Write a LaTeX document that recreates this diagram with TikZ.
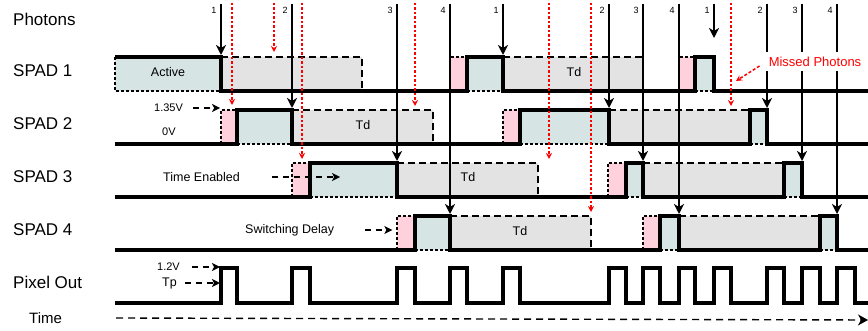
\documentclass[tikz,border=0pt]{standalone}
\usepackage{fontspec}
\setmainfont{Liberation Sans}
\usetikzlibrary{arrows.meta}

\definecolor{activec}{HTML}{D6E4E4}
\definecolor{deadc}{HTML}{E3E3E3}
\definecolor{delayc}{HTML}{FFD1DC}

\begin{document}
\begin{tikzpicture}[x=1pt, y=-1pt,
  lbl/.style={anchor=west, inner sep=0pt, font=\fontsize{17}{20}\selectfont},
  txt/.style={inner sep=0pt, font=\fontsize{12.5}{15}\selectfont},
  small/.style={anchor=west, inner sep=0pt, font=\fontsize{11}{13}\selectfont},
  num/.style={inner sep=0pt, font=\fontsize{9}{11}\selectfont},
  sig/.style={line width=3.3pt, line join=miter},
  dotedge/.style={line width=1.3pt, dash pattern=on 3pt off 2pt},
  dashedge/.style={line width=1.6pt, dash pattern=on 7pt off 4pt},
  photon/.style={line width=2pt, -{Stealth[length=10pt,width=10pt,inset=3pt]}},
  missed/.style={red, line width=1.5pt, dash pattern=on 2.5pt off 2pt, -{Stealth[length=6pt,width=6pt]}},
  hint/.style={line width=1.5pt, dash pattern=on 6pt off 5pt, -{Stealth[length=8pt,width=8pt,inset=2pt]}}]
  \useasboundingbox (0,0) rectangle (868,331);

  % row names
  \path (13,19) node[lbl] (photons) {Photons}
    (13,71) node[lbl] (spad1) {SPAD 1}
    (13,124) node[lbl] (spad2) {SPAD 2}
    (13,177) node[lbl] (spad3) {SPAD 3}
    (13,230) node[lbl] (spad4) {SPAD 4}
    (13,282) node[lbl] (pixout) {Pixel Out}
    (29,318) node[lbl, font=\fontsize{15}{18}\selectfont] (time) {Time};

  % SPAD 1
  \fill[activec] (115,57) rectangle (221,91) (467,57) rectangle (503,91) (695,57) rectangle (714,91);
  \fill[deadc] (221,57) rectangle (362,91) (503,57) rectangle (643,91);
  \fill[delayc] (450,57) rectangle (467,91) (679,57) rectangle (695,91);
  % SPAD 2
  \fill[activec] (237,110) rectangle (292,144) (520,110) rectangle (609,144) (750,110) rectangle (767,144);
  \fill[deadc] (292,110) rectangle (433,144) (609,110) rectangle (750,144);
  \fill[delayc] (221,110) rectangle (237,144) (503,110) rectangle (520,144);
  % SPAD 3
  \fill[activec] (310,163) rectangle (397,197) (626,163) rectangle (643,197) (784,163) rectangle (802,197);
  \fill[deadc] (397,163) rectangle (538,197) (643,163) rectangle (784,197);
  \fill[delayc] (292,163) rectangle (310,197) (608,163) rectangle (626,197);
  % SPAD 4
  \fill[activec] (415,216) rectangle (450,250) (660,216) rectangle (679,250) (820,216) rectangle (837,250);
  \fill[deadc] (450,216) rectangle (591,250) (679,216) rectangle (820,250);
  \fill[delayc] (397,216) rectangle (415,250) (643,216) rectangle (660,250);

  % dotted edges of the active and delay parts
  \draw[dotedge] (115,57) -- (115,91) -- (221,91) (450,91) -- (450,57) -- (467,57)
    (467,91) -- (503,91) (679,91) -- (679,57) -- (695,57) (695,91) -- (714,91);
  \draw[dotedge] (221,144) -- (221,110) -- (237,110) (237,144) -- (292,144)
    (503,144) -- (503,110) -- (520,110) (520,144) -- (609,144) (750,144) -- (767,144);
  \draw[dotedge] (292,197) -- (292,163) -- (310,163) (310,197) -- (397,197)
    (608,197) -- (608,163) -- (626,163) (626,197) -- (643,197) (784,197) -- (802,197);
  \draw[dotedge] (397,250) -- (397,216) -- (415,216) (415,250) -- (450,250)
    (643,250) -- (643,216) -- (660,216) (660,250) -- (679,250) (820,250) -- (837,250);

  % dashed edges of the dead time
  \draw[dashedge] (221,57) -- (362,57) -- (362,91) (503,57) -- (643,57) -- (643,91);
  \draw[dashedge] (292,110) -- (433,110) -- (433,144) (609,110) -- (750,110);
  \draw[dashedge] (397,163) -- (538,163) -- (538,197) (643,163) -- (784,163);
  \draw[dashedge] (450,216) -- (591,216) -- (591,250) (679,216) -- (820,216);

  % signals
  \draw[sig] (115,57) -- (221,57) -- (221,91) -- (467,91) -- (467,57) -- (503,57) -- (503,91)
    -- (695,91) -- (695,57) -- (714,57) -- (714,91) -- (868,91);
  \draw[sig] (115,144) -- (237,144) -- (237,110) -- (292,110) -- (292,144) -- (520,144) -- (520,110)
    -- (609,110) -- (609,144) -- (750,144) -- (750,110) -- (767,110) -- (767,144) -- (868,144);
  \draw[sig] (115,197) -- (310,197) -- (310,163) -- (397,163) -- (397,197) -- (626,197) -- (626,163)
    -- (643,163) -- (643,197) -- (784,197) -- (784,163) -- (802,163) -- (802,197) -- (868,197);
  \draw[sig] (115,250) -- (415,250) -- (415,216) -- (450,216) -- (450,250) -- (660,250) -- (660,216)
    -- (679,216) -- (679,250) -- (820,250) -- (820,216) -- (837,216) -- (837,250) -- (868,250);
  \draw[sig] (115,303) foreach \a/\b in {221/237,292/310,397/415,450/467,503/520,609/626,
      643/660,679/695,714/731,767/784,802/820,837/855} {-- (\a,303) -- (\a,268) -- (\b,268) -- (\b,303)}
    -- (868,303);

  % texts in the rows
  \node[txt] (active) at (168,72) {Active};
  \node[txt] (td1) at (574,72) {Td};
  \node[txt] (td2) at (363,125) {Td};
  \node[txt] (td3) at (468,177) {Td};
  \node[txt] (td4) at (520,231) {Td};
  \node[small] (v135) at (154,108) {1.35V};
  \node[small] (v0) at (162,132) {0V};
  \node[txt, anchor=west] (enabled) at (163,177) {Time Enabled};
  \node[txt, anchor=west] (switching) at (245,230) {Switching Delay};
  \node[small] (v12) at (157,267) {1.2V};
  \node[txt, anchor=west] (tp) at (162,283) {Tp};

  \draw[hint] ([xshift=10pt]v135.east) -- ++(27,0);
  \draw[hint] ([xshift=32pt]enabled.east) -- ++(68,0);
  \draw[hint] ([xshift=31pt]switching.east) -- ++(27,0);
  \draw[hint] ([xshift=12pt]v12.east) -- ++(28,0);
  \draw[hint] ([xshift=8pt]tp.east) -- ++(35,0);
  \draw[line width=1.4pt, dash pattern=on 7pt off 5pt, -{Stealth[length=10pt,width=11pt,inset=3pt]}]
    ([xshift=54pt]time.east) -- (868,320);

  % missed photons
  \foreach \x/\y in {232/105,274/52,302/159,415/106,549/159,591/212,731/106}
    \draw[missed] (\x,3) -- (\x,\y);

  % detected photons
  \foreach \x/\n/\y in {221/1/55,292/2/108,397/3/161,450/4/214,503/1/55,609/2/108,
      643/3/161,679/4/214,714/1/38,767/2/108,802/3/161,837/4/214} {
    \draw[photon] (\x,4) -- (\x,\y);
    \node[num] at (\x-7,10) {\n};
  }

  \node[fill=white, text=red, inner xsep=3pt, minimum height=19pt,
    font=\fontsize{13}{15}\selectfont] (missed) at (815,62) {Missed Photons};
  \draw[missed, dash pattern=on 3pt off 2pt] (missed.west) ++(-6,4) -- (736,81);
\end{tikzpicture}
\end{document}
